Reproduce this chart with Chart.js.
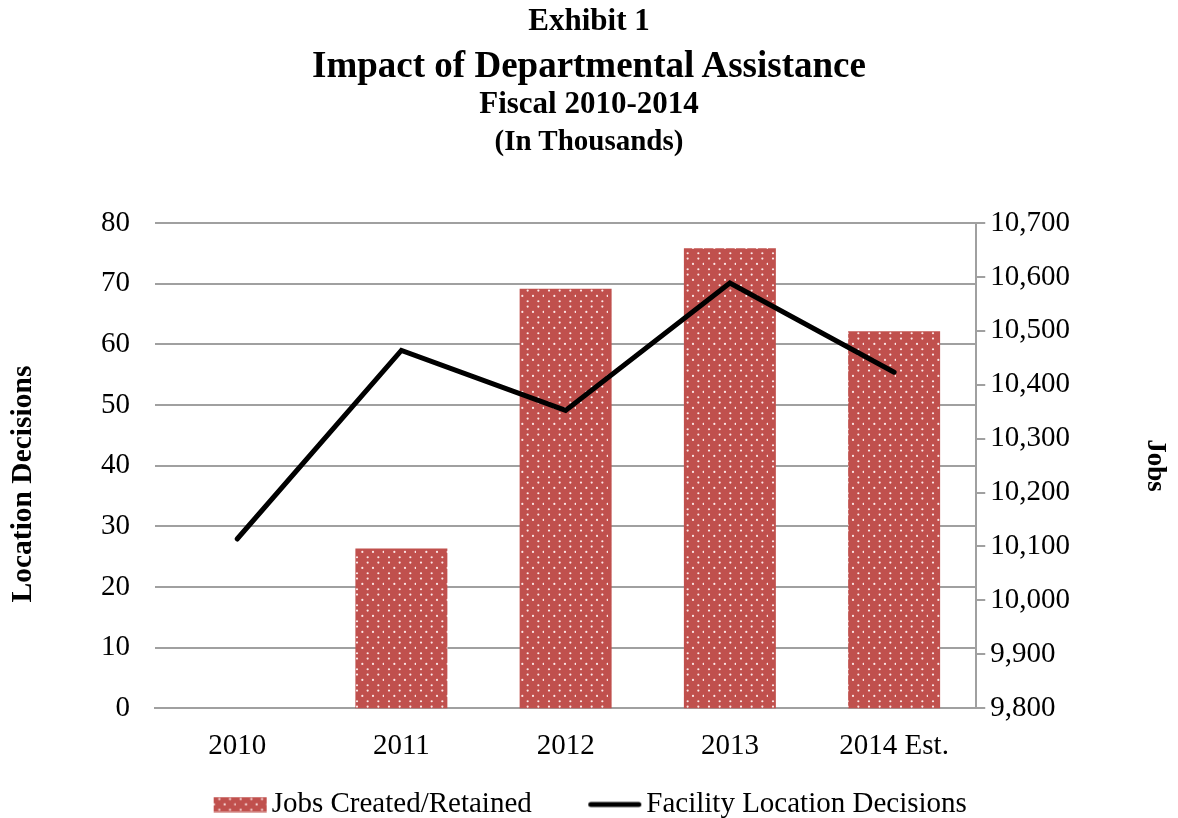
<!DOCTYPE html>
<html>
<head>
    <title>Impact of Departmental Assistance</title>
    <meta charset="utf-8">
    <script src="https://cdn.jsdelivr.net/npm/chart.js@4.4.1/dist/chart.umd.min.js"></script>
    <style>
      body { margin: 0; background: #fff; }
      .wrap { position: relative; width: 1178px; height: 818px; overflow: hidden; }
      .chart-container { position: absolute; left: 0; top: 0; width: 1178px; height: 818px; }
      .t {
        position: absolute; left: 0; width: 1178px; text-align: center;
        font-family: "Liberation Serif", "Times New Roman", serif;
        font-weight: bold; line-height: 1; color: #000;
      }
    </style>
</head>
<body>
<div class="wrap">
    <div class="chart-container"><canvas id="chart"></canvas></div>
    <div class="t" style="top:4px; font-size:31px;">Exhibit 1</div>
    <div class="t" style="top:46px; font-size:37px;">Impact of Departmental Assistance</div>
    <div class="t" style="top:87px; font-size:31px;">Fiscal 2010-2014</div>
    <div class="t" style="top:126px; font-size:29px;">(In Thousands)</div>
</div>

<script>
    const years = ['2010', '2011', '2012', '2013', '2014 Est.'];
    // bars, right axis
    const jobs = [null, 10096, 10578, 10653, 10499];
    // line, left axis
    const locationDecisions = [27.9, 59.0, 49.1, 70.1, 55.4];

    const serif = '"Liberation Serif", "Times New Roman", serif';
    const gridGray = '#a0a0a0';
    const barRed = '#c0504d';

    // red with small white dots
    function dotPattern() {
        const c = document.createElement('canvas');
        c.width = 32; c.height = 16;
        const g = c.getContext('2d');
        g.fillStyle = barRed;
        g.fillRect(0, 0, 32, 16);
        g.fillStyle = 'rgba(255,240,240,0.95)';
        let row = 0;
        for (let y = 2.6; y < 16; y += 5.33, row++) {
            for (let x = (row % 2) ? 10.33 : 5; x < 32; x += 10.67) {
                g.beginPath();
                g.arc(x, y, 1.1, 0, Math.PI * 2);
                g.fill();
            }
        }
        return g.createPattern(c, 'repeat');
    }
    const barFill = dotPattern();

    // legend symbols: 53px wide, ending 5px before the text
    const BOX_W = 75, HALF_FONT = 14.5, SYM_W = 53, SYM_GAP = 5;
    function legendSymbol(kind) {
        const left = BOX_W + HALF_FONT - SYM_GAP - SYM_W - BOX_W / 2; // relative to centre
        const half = Math.ceil(Math.max(-left, left + SYM_W)) + 1;
        const c = document.createElement('canvas');
        c.width = half * 2; c.height = 16;
        const g = c.getContext('2d');
        const x0 = half + left;
        if (kind === 'bar') {
            g.fillStyle = barFill;
            g.fillRect(x0, 0.5, SYM_W, 15);
        } else {
            g.strokeStyle = '#000';
            g.lineWidth = 5;
            g.lineCap = 'round';
            g.beginPath();
            g.moveTo(x0 + 2.5, 8);
            g.lineTo(x0 + SYM_W - 2.5, 8);
            g.stroke();
        }
        return c;
    }
    const barSymbol = legendSymbol('bar');
    const lineSymbol = legendSymbol('line');

    let ctx = document.getElementById('chart').getContext('2d');
    let chart = new Chart(ctx, {
        data: {
            labels: years,
            datasets: [{
                type: 'bar',
                label: 'Jobs Created/Retained',
                data: jobs,
                yAxisID: 'y1',
                backgroundColor: barFill,
                borderWidth: 0,
                categoryPercentage: 1,
                barPercentage: 0.56,
                order: 1
            }, {
                type: 'line',
                label: 'Facility Location Decisions',
                data: locationDecisions,
                yAxisID: 'y',
                borderColor: '#000',
                borderWidth: 5,
                borderCapStyle: 'round',
                borderJoinStyle: 'miter',
                pointRadius: 0,
                tension: 0,
                order: 0
            }]
        },
        options: {
            responsive: true,
            maintainAspectRatio: false,
            animation: false,
            layout: { padding: { top: 223, left: 0, right: 0, bottom: -11 } },
            plugins: {
                tooltip: { enabled: false },
                legend: {
                    position: 'bottom',
                    labels: {
                        usePointStyle: true,
                        pointStyleWidth: BOX_W,
                        boxHeight: 15,
                        padding: 25,
                        color: '#000',
                        font: { family: serif, size: 29 },
                        generateLabels(chart) {
                            const items = Chart.defaults.plugins.legend.labels.generateLabels(chart);
                            items.sort((a, b) => a.datasetIndex - b.datasetIndex);
                            items.forEach(it => {
                                if (it.datasetIndex === 0) {
                                    it.pointStyle = barSymbol;
                                } else {
                                    it.pointStyle = lineSymbol;
                                    it.text = it.text + '    ';
                                }
                            });
                            return items;
                        }
                    }
                }
            },
            scales: {
                x: {
                    offset: true,
                    grid: { display: false, tickLength: 20 },
                    border: { display: true, color: gridGray, width: 2 },
                    ticks: { color: '#000', padding: 1, font: { family: serif, size: 29 } }
                },
                y: {
                    position: 'left',
                    min: 0,
                    max: 80,
                    ticks: { stepSize: 10, color: '#000', padding: 25, font: { family: serif, size: 29 } },
                    grid: { color: gridGray, lineWidth: 2, drawTicks: false },
                    border: { display: false },
                    title: {
                        display: true,
                        text: 'Location Decisions     ',
                        color: '#000',
                        font: { family: serif, size: 29.5, weight: 'bold' },
                        padding: { top: 5.3, bottom: 35.3 }
                    }
                },
                y1: {
                    position: 'right',
                    min: 9800,
                    max: 10700,
                    ticks: {
                        stepSize: 100,
                        color: '#000',
                        padding: 5,
                        font: { family: serif, size: 29 },
                        callback: v => v.toLocaleString('en-US')
                    },
                    grid: { drawOnChartArea: false, drawTicks: true, tickLength: 9, tickColor: gridGray, lineWidth: 2 },
                    border: { display: true, color: gridGray, width: 2 },
                    title: {
                        display: true,
                        text: 'Jobs',
                        color: '#000',
                        font: { family: serif, size: 27, weight: 'bold' },
                        padding: { top: 6.8, bottom: 63.8 }
                    }
                }
            }
        }
    });
</script>
</body>
</html>
